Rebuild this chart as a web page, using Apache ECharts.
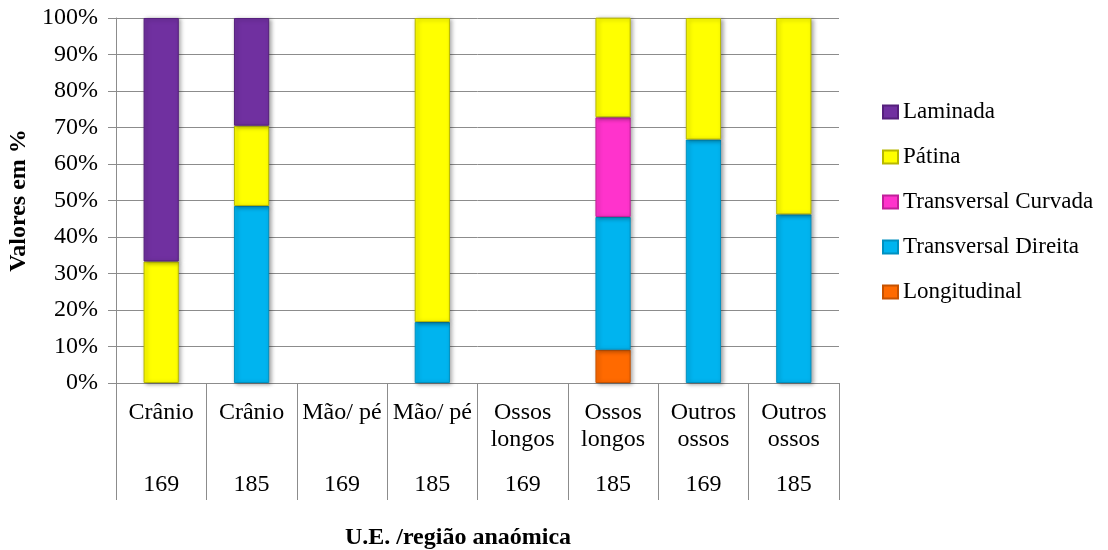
<!DOCTYPE html>
<html>
<head>
<meta charset="utf-8">
<script src="https://cdn.jsdelivr.net/npm/echarts@6/dist/echarts.min.js"></script>
<style>
  html, body { margin: 0; padding: 0; background: #fff; }
  #chart { width: 1108px; height: 550px; }
</style>
</head>
<body>
<div id="chart"></div>
<script>
// Anatomical region and stratigraphic unit for each column
const regions = ['Crânio', 'Crânio', 'Mão/ pé', 'Mão/ pé', 'Ossos\nlongos', 'Ossos\nlongos', 'Outros\nossos', 'Outros\nossos'];
const units = ['169', '185', '169', '185', '169', '185', '169', '185'];
const yTicks = [0, 10, 20, 30, 40, 50, 60, 70, 80, 90, 100];

// Percentages per modification type (null = no record)
const longitudinal = [0, 0, null, 0, null, 9.1, 0, 0];
const transvDireita = [0, 48.5, null, 16.7, null, 36.4, 66.7, 46.2];
const transvCurvada = [0, 0, null, 0, null, 27.3, 0, 0];
const patina = [33.3, 22.0, null, 83.3, null, 27.3, 33.3, 53.8];
const laminada = [66.7, 29.5, null, 0, null, 0, 0, 0];

const FONT = '"Liberation Serif", "DejaVu Serif", serif';
const chart = echarts.init(document.getElementById('chart'), null, { renderer: 'canvas' });

// empty segments are left out so they draw no border sliver
function segs(arr) { return arr.map(function (v) { return v ? v : null; }); }

function barSeries(name, data, color, border) {
  return {
    name: name,
    type: 'bar',
    stack: 'total',
    barWidth: '39%',
    data: segs(data),
    itemStyle: {
      color: color,
      borderColor: border,
      borderWidth: 1,
      shadowColor: 'rgba(0,0,0,0.35)',
      shadowBlur: 4,
      shadowOffsetX: 2,
      shadowOffsetY: 1
    },
    emphasis: { disabled: true }
  };
}

chart.setOption({
  animation: false,
  backgroundColor: '#ffffff',
  grid: { left: 116, right: 269, top: 18, bottom: 167, containLabel: false, outerBoundsMode: 'none' },
  legend: {
    orient: 'vertical',
    left: 882,
    top: 100,
    padding: 0,
    itemWidth: 15,
    itemHeight: 13,
    itemGap: 21,
    icon: 'rect',
    data: ['Laminada', 'Pátina', 'Transversal Curvada', 'Transversal Direita', 'Longitudinal'],
    textStyle: { fontFamily: FONT, fontSize: 23, lineHeight: 24, color: '#000' }
  },
  xAxis: [
    {
      type: 'category',
      data: regions,
      position: 'bottom',
      axisLine: { show: true, lineStyle: { color: '#8c8c8c', width: 1 } },
      axisTick: { show: true, length: 117, lineStyle: { color: '#8c8c8c', width: 1 } },
      axisLabel: {
        interval: 0,
        margin: 16,
        verticalAlign: 'top',
        fontFamily: FONT, fontSize: 24, color: '#000', lineHeight: 27
      }
    },
    {
      type: 'category',
      data: units,
      position: 'bottom',
      axisLine: { show: false },
      axisTick: { show: false },
      axisLabel: {
        interval: 0,
        margin: 90,
        verticalAlign: 'top',
        fontFamily: FONT, fontSize: 24, lineHeight: 24, color: '#000'
      }
    }
  ],
  yAxis: {
    type: 'value',
    min: 0,
    max: 100,
    interval: 10,
    name: 'Valores em %',
    nameLocation: 'middle',
    nameGap: 85,
    nameTextStyle: { fontFamily: FONT, fontSize: 24, fontWeight: 'bold', color: '#000' },
    axisLine: { show: true, lineStyle: { color: '#8c8c8c', width: 1 } },
    axisTick: { show: true, inside: false, length: 8, lineStyle: { color: '#8c8c8c' } },
    splitLine: { show: true, lineStyle: { color: '#8c8c8c', width: 1 } },
    axisLabel: {
      margin: 18,
      fontFamily: FONT, fontSize: 24, color: '#000',
      formatter: function (v) { return yTicks.indexOf(v) >= 0 ? v + '%' : ''; }
    }
  },
  graphic: [
    {
      type: 'text',
      x: 458,
      y: 538,
      style: {
        text: 'U.E. /região anaómica',
        font: 'bold 24px ' + FONT,
        fill: '#000',
        align: 'center',
        verticalAlign: 'middle'
      }
    }
  ],
  series: [
    barSeries('Longitudinal', longitudinal, '#ff6a00', '#c65200'),
    barSeries('Transversal Direita', transvDireita, '#00b4ef', '#0090c0'),
    barSeries('Transversal Curvada', transvCurvada, '#ff33cc', '#c0209a'),
    barSeries('Pátina', patina, '#ffff00', '#b8b800'),
    barSeries('Laminada', laminada, '#7030a0', '#55207c')
  ]
});
</script>
</body>
</html>
